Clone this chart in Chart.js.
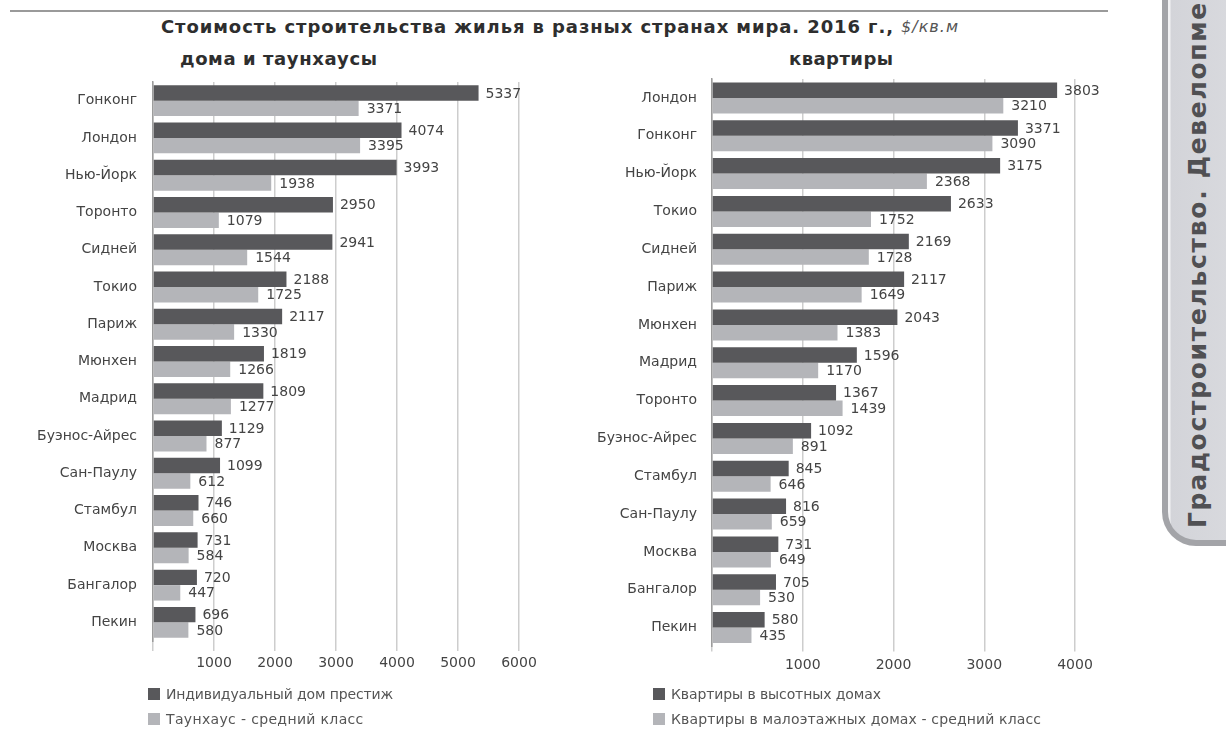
<!DOCTYPE html>
<html lang="ru">
<head>
<meta charset="utf-8">
<script src="https://cdn.jsdelivr.net/npm/chart.js@4.4.1/dist/chart.umd.min.js"></script>
<style>
  html, body { margin:0; padding:0; background:#fff; width:1226px; height:740px; overflow:hidden; }
  body { position:relative; font-family:'DejaVu Sans', 'Liberation Sans', Arial, sans-serif; color:#444; }
  .abs { position:absolute; white-space:nowrap; }
  .box { position:absolute; }
  #topline { position:absolute; left:10px; top:10px; width:1098px; height:2px; background:#9a9a9a; }
  #title { font-weight:bold; font-size:18px; color:#2e2e2e; }
  #titleUnit { font-style:italic; font-size:16px; color:#555; }
  .sub { font-weight:bold; font-size:18px; color:#2e2e2e; }
  .leg { font-size:14px; color:#555; }
  .sq { position:absolute; width:12px; height:12px; }
  #tab { position:absolute; left:1162px; top:-40px; width:90px; height:586px;
         box-sizing:border-box; border-left:6px solid #a3a4a8; border-bottom:6px solid #a3a4a8;
         border-bottom-left-radius:34px;
         background:linear-gradient(to right, #f2f2f4 0px, #f2f2f4 2px, #d3d4d9 3px, #dadbdf 100%); }
  #tabText { font-weight:bold; font-size:25px; color:#505053;
             transform-origin:0 0; transform:rotate(-90deg); }
</style>
</head>
<body>
<script>
// ---------- data ----------
const leftCategories = ['Гонконг','Лондон','Нью-Йорк','Торонто','Сидней','Токио','Париж','Мюнхен','Мадрид','Буэнос-Айрес','Сан-Паулу','Стамбул','Москва','Бангалор','Пекин'];
const leftPrestige   = [5337,4074,3993,2950,2941,2188,2117,1819,1809,1129,1099,746,731,720,696];
const leftTownhouse  = [3371,3395,1938,1079,1544,1725,1330,1266,1277,877,612,660,584,447,580];

const rightCategories = ['Лондон','Гонконг','Нью-Йорк','Токио','Сидней','Париж','Мюнхен','Мадрид','Торонто','Буэнос-Айрес','Стамбул','Сан-Паулу','Москва','Бангалор','Пекин'];
const rightHighrise   = [3803,3371,3175,2633,2169,2117,2043,1596,1367,1092,845,816,731,705,580];
const rightLowrise    = [3210,3090,2368,1752,1728,1649,1383,1170,1439,891,646,659,649,530,435];

const leftTicks  = [1000,2000,3000,4000,5000,6000];
const rightTicks = [1000,2000,3000,4000];

const seriesNames = {
  left:  ['Индивидуальный дом престиж', 'Таунхаус  -  средний класс'],
  right: ['Квартиры в высотных домах', 'Квартиры в малоэтажных домах - средний класс']
};
const titleText = 'Стоимость строительства жилья в разных странах мира. 2016 г.,';
const titleUnit = '$/кв.м';
const subLeft = 'дома и таунхаусы';
const subRight = 'квартиры';
const tabText = 'Градостроительство. Девелопмент';
const tabVisible = 'Градостроительство. Девелопме';
</script>

<div id="topline"></div>
<div id="tab"></div>
<div class="abs" id="tabText"></div>

<div class="abs" id="title"></div>
<div class="abs" id="titleUnit"></div>
<div class="abs sub" id="subL"></div>
<div class="abs sub" id="subR"></div>

<div class="box" style="left:0px; top:0px; width:560px; height:700px;"><canvas id="cL"></canvas></div>
<div class="box" style="left:560px; top:0px; width:560px; height:700px;"><canvas id="cR"></canvas></div>

<div class="sq" style="left:148px; top:688px; background:#58585b;"></div>
<div class="abs leg" id="lgL1"></div>
<div class="sq" style="left:148px; top:713px; background:#b4b5b9;"></div>
<div class="abs leg" id="lgL2"></div>

<div class="sq" style="left:653px; top:688px; background:#58585b;"></div>
<div class="abs leg" id="lgR1"></div>
<div class="sq" style="left:653px; top:713px; background:#b4b5b9;"></div>
<div class="abs leg" id="lgR2"></div>

<script>
// place text: left edge x, vertical centre cy, letter-spacing so the text spans `width`
function place(id, txt, x, cy, width) {
  const el = document.getElementById(id);
  el.textContent = txt;
  el.style.lineHeight = '1';
  if (width) {
    el.style.letterSpacing = '0px';
    const cur = el.getBoundingClientRect().width;
    el.style.letterSpacing = ((width - cur) / Math.max(1, txt.length - 1)) + 'px';
  }
  const h = el.getBoundingClientRect().height;
  el.style.left = x + 'px';
  el.style.top = (cy - h / 2) + 'px';
}
place('title', titleText, 161, 27, 732);
place('titleUnit', titleUnit, 901, 27, 57);
place('subL', subLeft, 180, 59, 197);
place('subR', subRight, 789, 59, 104);
place('lgL1', seriesNames.left[0], 166, 694, 227);
place('lgL2', seriesNames.left[1], 166, 719, 198);
place('lgR1', seriesNames.right[0], 671, 694, 210);
place('lgR2', seriesNames.right[1], 671, 719, 370);

(function () {
  const el = document.getElementById('tabText');
  const c = document.createElement('canvas').getContext('2d');
  c.font = "bold 25px 'DejaVu Sans', Arial, sans-serif";
  const w = c.measureText(tabVisible).width;
  const ls = (527 - w) / tabVisible.length;
  el.textContent = tabText;
  el.style.letterSpacing = ls + 'px';
  const lh = 30;
  el.style.lineHeight = lh + 'px';
  el.style.left = (1198 - lh / 2) + 'px';
  el.style.top = '528px';
})();

const DARK = '#58585b', LIGHT = '#b4b5b9';
const FONT = "'DejaVu Sans', 'Liberation Sans', Arial, sans-serif";

const valueLabels = {
  id: 'valueLabels',
  afterDatasetsDraw(chart) {
    const ctx = chart.ctx;
    ctx.save();
    ctx.font = '14px ' + FONT;
    ctx.fillStyle = '#444';
    ctx.textAlign = 'left';
    ctx.textBaseline = 'middle';
    chart.data.datasets.forEach((ds, i) => {
      const meta = chart.getDatasetMeta(i);
      meta.data.forEach((bar, j) => {
        ctx.fillText(String(ds.data[j]), bar.x + (i === 0 ? 7 : 8), bar.y + 1);
      });
    });
    ctx.restore();
  }
};

function makeChart(id, cats, d1, d2, max, ticks, opts) {
  return new Chart(document.getElementById(id), {
    type: 'bar',
    data: {
      labels: cats,
      datasets: [
        { data: d1, backgroundColor: DARK, borderWidth: 0, categoryPercentage: opts.cat, barPercentage: 1.0 },
        { data: d2, backgroundColor: LIGHT, borderWidth: 0, categoryPercentage: opts.cat, barPercentage: 1.0 }
      ]
    },
    options: {
      indexAxis: 'y',
      responsive: true,
      maintainAspectRatio: false,
      animation: false,
      events: [],
      layout: { padding: { top: opts.top, right: opts.right, left: 0, bottom: 0 } },
      plugins: { legend: { display: false }, tooltip: { enabled: false }, title: { display: false } },
      scales: {
        x: {
          min: 0, max: max,
          afterFit(s) { s.height = opts.xh; },
          afterBuildTicks(s) { s.ticks = [0].concat(ticks).map(v => ({ value: v })); },
          ticks: {
            callback: v => (v === 0 ? '' : String(v)),
            color: '#444', font: { family: FONT, size: 14 }, padding: opts.tpad, maxRotation: 0, autoSkip: false
          },
          grid: { color: '#cdcdcd', lineWidth: 1.5, tickLength: opts.tl, drawTicks: true },
          border: { display: false }
        },
        y: {
          afterFit(s) { s.width = opts.yw; },
          ticks: { color: '#444', font: { family: FONT, size: 14 }, padding: opts.ypad, autoSkip: false },
          grid: { display: false, drawTicks: false },
          border: { display: true, color: '#9c9c9c', width: 1.5 }
        }
      }
    },
    plugins: [valueLabels]
  });
}

makeChart('cL', leftCategories, leftPrestige, leftTownhouse, 6000, leftTicks,
  { cat: 0.83, top: 82, right: 41, xh: 59, yw: 153, ypad: 16, tl: 10, tpad: 4 });
makeChart('cR', rightCategories, rightHighrise, rightLowrise, 4000, rightTicks,
  { cat: 0.82, top: 79, right: 45, xh: 53.5, yw: 152, ypad: 15, tl: 5, tpad: 5 });
</script>
</body>
</html>
